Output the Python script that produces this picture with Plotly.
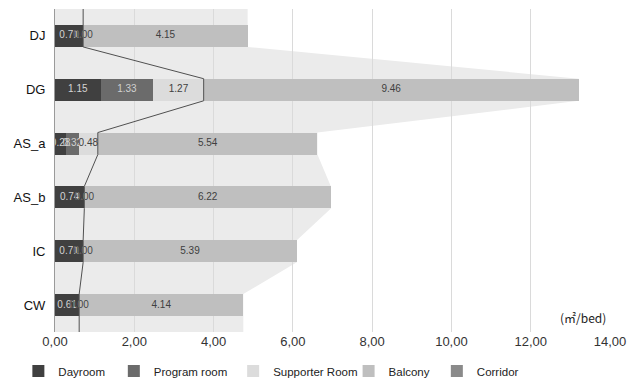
import plotly.graph_objects as go

categories = ["DJ", "DG", "AS_a", "AS_b", "IC", "CW"]
dayroom = [0.71, 1.15, 0.28, 0.74, 0.71, 0.61]
program_room = [0.00, 1.33, 0.32, 0.00, 0.00, 0.00]
supporter_room = [0.00, 1.27, 0.48, 0.00, 0.00, 0.00]
balcony = [4.15, 9.46, 5.54, 6.22, 5.39, 4.14]
corridor = [0.00, 0.00, 0.00, 0.00, 0.00, 0.00]
x_ticks = [0, 2, 4, 6, 8, 10, 12, 14]
x_tick_labels = ["0,00", "2,00", "4,00", "6,00", "8,00", "10,00", "12,00", "14,00"]

series = [
    ("Dayroom", dayroom, "#404040", "#d4d4d4", True),
    ("Program room", program_room, "#6b6b6b", "#d0d0d0", True),
    ("Supporter Room", supporter_room, "#dcdcdc", "#404040", True),
    ("Balcony", balcony, "#bfbfbf", "#404040", True),
    ("Corridor", corridor, "#8a8a8a", "#404040", False),
]

ypos = list(range(len(categories)))
bar_w = 0.41
h = bar_w / 2
n = len(categories)

totals = [sum(s[1][i] for s in series) for i in range(n)]
inner = [dayroom[i] + program_room[i] + supporter_room[i] for i in range(n)]

fig = go.Figure()

legend_x = [-0.066, 0.106, 0.321, 0.529, 0.688]
base = [0.0] * n
label_traces = []
for k, (name, vals, col, tcol, show_lbl) in enumerate(series):
    lg = "legend" if k == 0 else f"legend{k+1}"
    fig.add_trace(go.Bar(
        name=name, y=ypos, x=vals, orientation="h", width=bar_w,
        marker=dict(color=col, line=dict(width=0)),
        legend=lg, hoverinfo="x+name",
    ))
    if show_lbl:
        label_traces.append(go.Scatter(
            x=[base[i] + vals[i] / 2 for i in range(n)], y=ypos,
            mode="text", text=[f"{v:.2f}" for v in vals],
            textfont=dict(size=10, color=tcol, family="Liberation Sans"),
            showlegend=False, hoverinfo="skip",
        ))
    base = [base[i] + vals[i] for i in range(n)]

# connector line through the end of the inner (dayroom+program+supporter) segments
lx, ly = [inner[0]], [-0.5]
for i in range(n):
    lx += [inner[i], inner[i]]
    ly += [i - h, i + h]
lx.append(inner[-1])
ly.append(n - 0.5)
fig.add_trace(go.Scatter(x=lx, y=ly, mode="lines", line=dict(color="#505050", width=1),
                         showlegend=False, hoverinfo="skip"))
for t in label_traces:
    fig.add_trace(t)

# background funnel area from bar totals
pts = [(0, -0.5), (totals[0], -0.5)]
for i in range(n):
    pts += [(totals[i], i - h), (totals[i], i + h)]
pts += [(totals[-1], n - 0.5), (0, n - 0.5)]
path = "M " + " L ".join(f"{x},{y}" for x, y in pts) + " Z"
fig.add_shape(type="path", path=path, xref="x", yref="y", layer="below",
              fillcolor="#ebebeb", line=dict(width=0))

fig.add_annotation(text="(㎡/bed)", xref="paper", yref="paper", x=0.997, y=0.012,
                   xanchor="right", yanchor="bottom", showarrow=False,
                   font=dict(size=12, color="#222", family="Noto Sans CJK KR"))

layout_legends = {}
for k in range(len(series)):
    key = "legend" if k == 0 else f"legend{k+1}"
    layout_legends[key] = dict(x=legend_x[k], y=-0.121, xanchor="left", yanchor="middle",
                               orientation="h", bgcolor="rgba(0,0,0,0)",
                               font=dict(size=11.5, color="#222", family="Liberation Sans"),
                               itemclick=False)

fig.update_layout(
    width=629, height=382,
    margin=dict(l=55, r=19, t=9, b=50, autoexpand=False),
    barmode="stack",
    plot_bgcolor="rgba(0,0,0,0)", paper_bgcolor="white",
    font=dict(family="Liberation Sans", color="#222"),
    xaxis=dict(range=[0, 14], tickvals=x_ticks, ticktext=x_tick_labels,
               showgrid=True, gridcolor="#dadada", gridwidth=1, zeroline=False,
               tickfont=dict(size=13, color="#333"), ticks="", showline=False,
               fixedrange=True, automargin=False),
    yaxis=dict(range=[n - 0.5, -0.5], tickvals=ypos, ticktext=categories,
               showgrid=False, zeroline=False, showline=True, linecolor="#9a9a9a",
               linewidth=1, ticks="", tickfont=dict(size=13, color="#111"),
               ticklabelstandoff=6, fixedrange=True, automargin=False),
    **layout_legends,
)

fig.write_html("out.html", config={"displayModeBar": False},
               post_script="document.body.style.margin='0';")
